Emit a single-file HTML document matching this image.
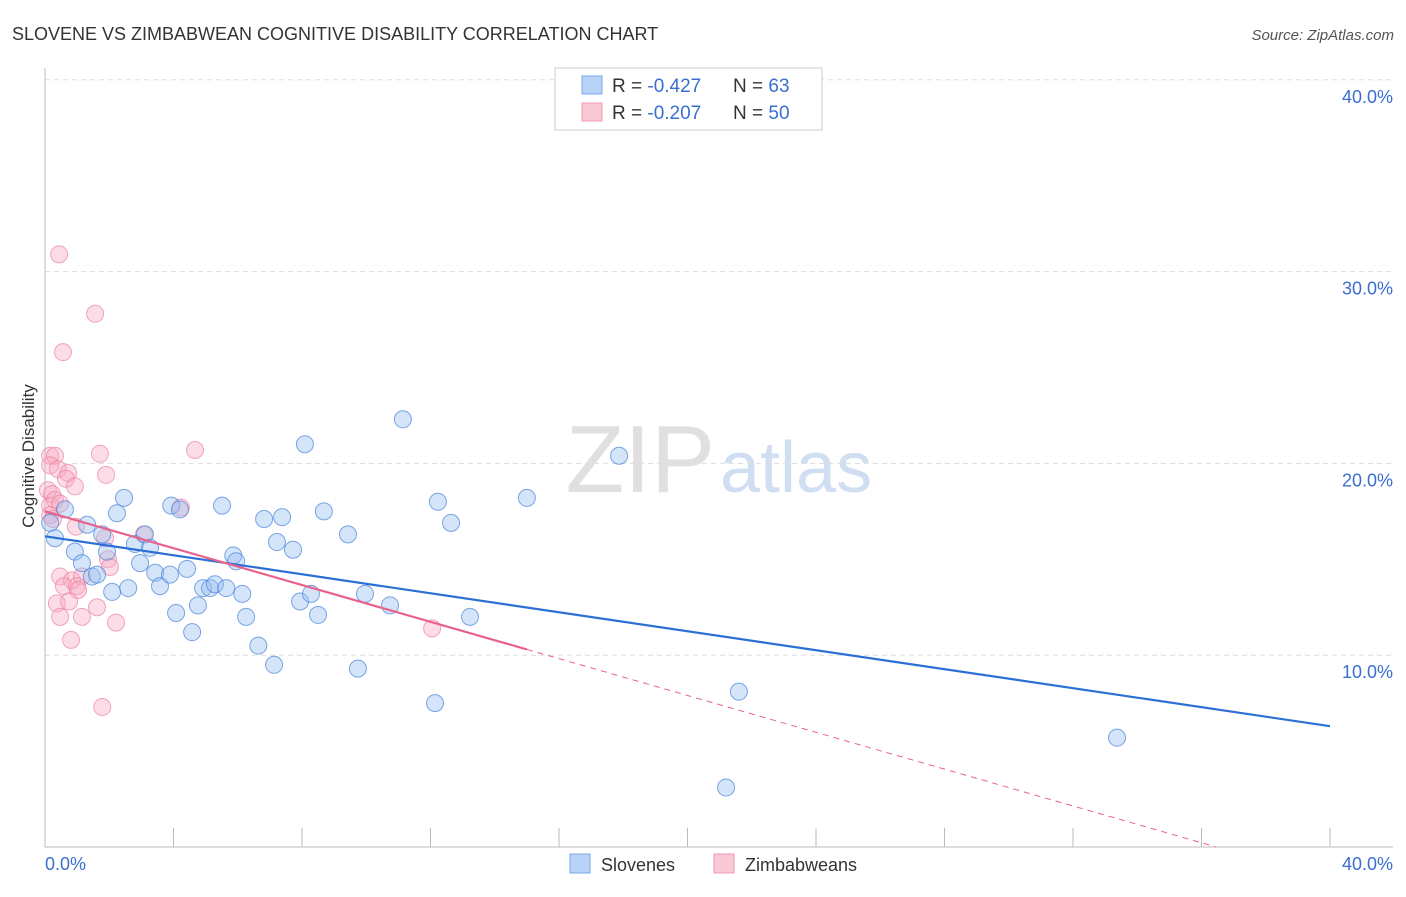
<!DOCTYPE html>
<html><head><meta charset="utf-8"><style>
body{margin:0;background:#fff;font-family:"Liberation Sans",sans-serif;}
svg text{font-family:"Liberation Sans",sans-serif;}
</style></head><body>
<svg id="chart" width="1406" height="892">
<text x="12" y="40" font-size="18" fill="#333">SLOVENE VS ZIMBABWEAN COGNITIVE DISABILITY CORRELATION CHART</text>
<text x="1394" y="40" font-size="15" fill="#555" font-style="italic" text-anchor="end">Source: ZipAtlas.com</text>
<text x="715" y="492" font-size="96" fill="#e0e0e0" font-family="Liberation Serif" text-anchor="end">ZIP</text>
<text x="720" y="492" font-size="72" fill="#d0def2">atlas</text>
<g id="grid"></g>
<g id="pts"></g>
<g id="lines"></g>
<text transform="translate(34,456) rotate(-90)" font-size="17" fill="#333" text-anchor="middle">Cognitive Disability</text>
<text x="45" y="870" font-size="18" fill="#3a6fd0">0.0%</text>
<text x="1393" y="870" font-size="18" fill="#3a6fd0" text-anchor="end">40.0%</text>
<g>
<rect x="555" y="68" width="267" height="62" fill="#fff" stroke="#ccc"/>
<rect x="582" y="76" width="20" height="18" fill="#b8d3f5" stroke="#7aa7e6"/>
<rect x="582" y="103" width="20" height="18" fill="#fbc8d6" stroke="#ef99b0"/>
<text x="612" y="92" font-size="19" fill="#333">R = <tspan fill="#3a6fd0">-0.427</tspan></text>
<text x="733" y="92" font-size="19" fill="#333">N = <tspan fill="#3a6fd0">63</tspan></text>
<text x="612" y="119" font-size="19" fill="#333">R = <tspan fill="#3a6fd0">-0.207</tspan></text>
<text x="733" y="119" font-size="19" fill="#333">N = <tspan fill="#3a6fd0">50</tspan></text>
</g>
<g>
<rect x="570" y="854" width="20" height="19" fill="#b8d3f5" stroke="#7aa7e6"/>
<text x="601" y="871" font-size="18" fill="#333">Slovenes</text>
<rect x="714" y="854" width="20" height="19" fill="#fbc8d6" stroke="#ef99b0"/>
<text x="745" y="871" font-size="18" fill="#333">Zimbabweans</text>
</g>
</svg>
<script>
const yTicks=[10,20,30,40];
const yTickLabels=["10.0%","20.0%","30.0%","40.0%"];
const xTicks=[0,4,8,12,16,20,24,28,32,36,40];
const sloveneX=[0.16,0.31,0.62,0.93,1.15,1.31,1.46,1.62,1.78,1.93,2.09,2.24,2.46,2.59,2.8,2.96,3.11,3.27,3.43,3.58,3.89,3.93,4.08,4.2,4.42,4.58,4.76,4.92,5.14,5.29,5.51,5.64,5.86,5.95,6.14,6.26,6.64,6.82,7.13,7.22,7.38,7.72,7.94,8.09,8.28,8.5,8.68,9.43,9.74,9.96,10.74,11.14,12.14,12.23,12.64,13.23,15.0,17.87,21.6,33.37,21.2];
const sloveneY=[16.9,16.1,17.6,15.4,14.8,16.8,14.1,14.2,16.3,15.4,13.3,17.4,18.2,13.5,15.8,14.8,16.3,15.6,14.3,13.6,14.2,17.8,12.2,17.6,14.5,11.2,12.6,13.5,13.5,13.7,17.8,13.5,15.2,14.9,13.2,12.0,10.5,17.1,9.5,15.9,17.2,15.5,12.8,21.0,13.2,12.1,17.5,16.3,9.3,13.2,12.6,22.3,7.5,18.0,16.9,12.0,18.2,20.4,8.1,5.7,3.1];
const zimX=[0.44,0.56,1.56,0.16,0.31,0.16,0.4,0.72,0.65,0.09,0.22,0.16,0.31,0.47,0.93,0.16,0.25,0.96,1.71,1.9,4.67,3.08,1.87,1.96,2.02,0.47,0.84,1.15,0.59,0.99,1.03,0.37,0.75,1.62,0.47,1.15,2.21,0.81,1.78,4.23,12.05];
const zimY=[30.9,25.8,27.8,20.4,20.4,19.9,19.7,19.5,19.2,18.6,18.4,17.8,18.1,17.9,18.8,17.3,17.1,16.7,20.5,19.4,20.7,16.3,16.1,15.0,14.6,14.1,13.9,14.1,13.6,13.6,13.4,12.7,12.8,12.5,12.0,12.0,11.7,10.8,7.3,17.7,11.4];
const blueTrend=[16.2,6.3];
const pinkTrend=[17.5,-1.7];
const pinkSolidEnd=15;
const NS="http://www.w3.org/2000/svg";
const X=v=>45+v/40*1285, Y=v=>847-v*19.18;
function mk(tag,attrs,parent){const e=document.createElementNS(NS,tag);for(const k in attrs)e.setAttribute(k,attrs[k]);parent.appendChild(e);return e;}
const grid=document.getElementById('grid');
yTicks.forEach((t,i)=>{
 const l=mk('line',{x1:45,x2:1393,y1:Y(t),y2:Y(t),stroke:'#ddd','stroke-dasharray':'5,4'},grid);
 
 
 const tx=mk('text',{x:1393,y:Y(t)+23,'font-size':18,fill:'#3a6fd0','text-anchor':'end'},grid);
 tx.textContent=yTickLabels[i];
 
 
});
mk('line',{x1:45,x2:45,y1:68,y2:847,stroke:'#bbb'},grid);
mk('line',{x1:45,x2:1393,y1:847,y2:847,stroke:'#bbb'},grid);
xTicks.forEach(t=>{
 const l=mk('line',{x1:X(t),x2:X(t),y1:828,y2:847,stroke:'#bbb'},grid);
 
 
});
const pts=document.getElementById('pts');
zimX.forEach((x,i)=>{
 const c=mk('circle',{cx:X(x),cy:Y(zimY[i]),r:8.5,fill:'rgba(248,170,195,0.4)',stroke:'rgba(236,130,160,0.7)','stroke-width':1},pts);
 
 
});
sloveneX.forEach((x,i)=>{
 const c=mk('circle',{cx:X(x),cy:Y(sloveneY[i]),r:8.5,fill:'rgba(150,190,240,0.4)',stroke:'rgba(70,130,220,0.7)','stroke-width':1},pts);
 
 
});
const lines=document.getElementById('lines');
const bl=mk('line',{x1:X(0),y1:Y(blueTrend[0]),x2:X(40),y2:Y(blueTrend[1]),stroke:'#2b6fd6','stroke-width':2.2},lines);


const pf=v=>pinkTrend[0]+(pinkTrend[1]-pinkTrend[0])*v/40;
const pl=mk('line',{x1:X(0),y1:Y(pf(0)),x2:X(pinkSolidEnd),y2:Y(pf(pinkSolidEnd)),stroke:'#e8638c','stroke-width':2.2},lines);


const xz=-pinkTrend[0]/(pinkTrend[1]-pinkTrend[0])*40;
const pd=mk('line',{x1:X(pinkSolidEnd),y1:Y(pf(pinkSolidEnd)),x2:X(xz),y2:Y(0),stroke:'#e8638c','stroke-width':1,'stroke-dasharray':'6,5'},lines);


</script>
</body></html>
